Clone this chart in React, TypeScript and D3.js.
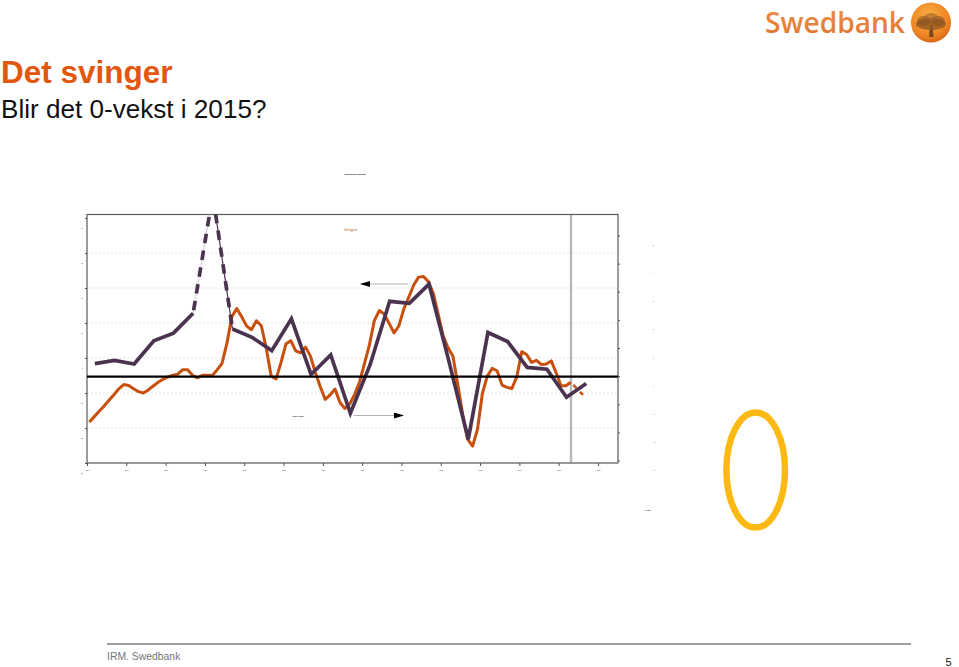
import * as d3 from "d3";
import {useRef, useEffect} from "react";

const width = 959;
const height = 667;

// plot box
const boxLeft = 87;
const boxRight = 618;
const boxTop = 214.5;
const boxBottom = 463;

const yearTicks = [2003, 2004, 2005, 2006, 2007, 2008, 2009, 2010, 2011, 2012, 2013, 2014, 2015, 2016];
const leftTicks = [-30, -20, -10, 0, 10, 20, 30, 40];
const rightTicks = [-3, -2, -1, 0, 1, 2, 3, 4, 5];

// half-yearly series, left axis
const halfYearStart = 2003.2;
const halfYearValues = [
  -1.6, -0.7, -1.7, 4.9, 7.1, 12.8, 46.6, 8.3, 5.9, 2.1, 11.2, -4.7, 0.9, -15.8, -2, 16.2, 15.6, 21.1, -0.6, -23.2,
  7.3, 4.7, -2.7, -3.2, -11.2, -7.3,
];

// orange series, right axis, one value per 1.5 months
const actualStart = 2003.06;
const actualValues = [
  -1.63, -1.44, -1.25, -1.06, -0.86, -0.66, -0.45, -0.3, -0.33, -0.45, -0.55, -0.6, -0.49, -0.35, -0.22, -0.11, -0.03,
  0.03, 0.07, 0.23, 0.23, 0.03, -0.06, 0.03, 0.03, 0.02, 0.22, 0.45, 1.17, 2.11, 2.4, 2.11, 1.78, 1.65, 1.97, 1.79,
  0.99, 0, -0.1, 0.48, 1.14, 1.26, 0.9, 0.83, 1.03, 0.71, 0.12, -0.38, -0.83, -0.67, -0.46, -0.94, -1.15, -0.99, -0.65,
  -0.2, 0.45, 1.11, 1.97, 2.33, 2.21, 1.88, 1.54, 1.79, 2.39, 2.8, 3.23, 3.52, 3.54, 3.36, 2.94, 2.2, 1.43, 1.01, 0.71,
  -0.32, -1.38, -2.25, -2.49, -1.89, -0.61, 0, 0.28, 0.18, -0.32, -0.4, -0.44, -0.02, 0.87, 0.77, 0.49, 0.56, 0.41,
  0.43, 0.54, 0.12, -0.34, -0.34, -0.22,
];
const forecastValues = [-0.22, -0.4, -0.59, -0.75];

const purple = "#4b3350";
const orange = "#c8500f";
const sans = "'Liberation Sans', Arial, sans-serif";

const x = d3.scaleLinear().domain([2003, 2016]).range([boxLeft, 598]);
const yLeft = d3.scaleLinear().domain([-30, 40]).range([boxBottom, 218]);
const yRight = d3.scaleLinear().domain([-3, 5]).range([460.5, 235.5]);

const halfYearPoints = halfYearValues.map((v, i) => [halfYearStart + i * 0.5, v] as [number, number]);
const leftLine = d3
  .line<[number, number]>()
  .x((d) => x(d[0]))
  .y((d) => yLeft(d[1]));
const rightLine = d3
  .line<[number, number]>()
  .x((d) => x(d[0]))
  .y((d) => yRight(d[1]));

const actualPoints = actualValues.map((v, i) => [actualStart + i * 0.125, v] as [number, number]);
const forecastPoints = forecastValues.map(
  (v, i) => [actualStart + (actualValues.length - 1 + i) * 0.125, v] as [number, number],
);

export default function App() {
  const gx = useRef<SVGGElement | null>(null);
  const gl = useRef<SVGGElement | null>(null);
  const gr = useRef<SVGGElement | null>(null);

  useEffect(() => {
    if (gx.current) {
      d3.select(gx.current)
        .call(d3.axisBottom(x).tickValues(yearTicks).tickFormat(d3.format("d")).tickSize(3).tickPadding(4))
        .call((g) => g.select(".domain").remove());
    }
    if (gl.current) {
      d3.select(gl.current)
        .call(d3.axisLeft(yLeft).tickValues(leftTicks).tickSize(2).tickPadding(2))
        .call((g) => g.select(".domain").remove())
        .call((g) => g.selectAll("text").attr("dy", 10));
    }
    if (gr.current) {
      d3.select(gr.current)
        .call(d3.axisRight(yRight).tickValues(rightTicks).tickSize(2).tickPadding(33))
        .call((g) => g.select(".domain").remove())
        .call((g) => g.selectAll("text").attr("dy", 10));
    }
    [gx, gl, gr].forEach((r) => {
      if (r.current) {
        d3.select(r.current).selectAll("text").attr("font-size", 1.6).attr("font-family", sans).attr("fill", "#222");
        d3.select(r.current).selectAll("line").attr("stroke", "#555");
      }
    });
  }, []);

  return (
    <svg width={width} height={height} style={{position: "absolute", left: 0, top: 0, display: "block"}}>
      <defs>
        <clipPath id="plot">
          <rect x={boxLeft} y={boxTop} width={boxRight - boxLeft} height={boxBottom - boxTop} />
        </clipPath>
        <linearGradient id="logoText" x1="0" x2="0" y1="0" y2="1">
          <stop offset="0" stopColor="#eb9350" />
          <stop offset="1" stopColor="#e3702a" />
        </linearGradient>
        <radialGradient id="logoBall" cx="0.45" cy="0.35" r="0.7">
          <stop offset="0" stopColor="#fbb246" />
          <stop offset="0.7" stopColor="#ee8423" />
          <stop offset="1" stopColor="#cf5f18" />
        </radialGradient>
        <marker id="head" viewBox="0 0 10 6" refX="9" refY="3" markerWidth="10" markerHeight="6" orient="auto" markerUnits="userSpaceOnUse">
          <path d="M0,0L10,3L0,6Z" fill="#000" />
        </marker>
      </defs>

      <text x={1} y={82.5} fontFamily={sans} fontSize={31.5} fontWeight="bold" fill="#e2570f">
        Det svinger
      </text>
      <text x={1} y={118} fontFamily={sans} fontSize={26.1} fill="#111">
        Blir det 0-vekst i 2015?
      </text>

      <text x={765} y={33} textLength={140} lengthAdjust="spacingAndGlyphs" fontFamily="'Open Sans', sans-serif" fontSize={29.4} fontWeight="600" fill="url(#logoText)">
        Swedbank
      </text>
      <circle cx={931} cy={22.5} r={20} fill="url(#logoBall)" />
      <path d="M929,37L933.5,37L932.5,25L930,25Z" fill="#7a4a1c" />
      <ellipse cx={931} cy={24} rx={15} ry={6} fill="#94591f" opacity={0.8} />
      <ellipse cx={924} cy={21} rx={7} ry={5} fill="#8a5020" opacity={0.6} />
      <ellipse cx={938} cy={21} rx={7} ry={5} fill="#8a5020" opacity={0.6} />
      <ellipse cx={931} cy={17} rx={7} ry={4} fill="#a0622a" opacity={0.6} />

      <text x={355} y={175} textAnchor="middle" fontFamily={sans} fontSize={2.5} fill="#222" fontWeight="bold">
        Swedbank anslag
      </text>

      {leftTicks.slice(0, -1).map((t) => (
        <line key={t} x1={boxLeft} x2={boxRight} y1={yLeft(t)} y2={yLeft(t)} stroke="#dcdcdc" strokeWidth={0.8} strokeDasharray="2 2" />
      ))}

      <line x1={571} x2={571} y1={boxTop} y2={boxBottom} stroke="#b9b9b9" strokeWidth={2.4} />
      <rect x={boxLeft} y={boxTop} width={boxRight - boxLeft} height={boxBottom - boxTop} fill="none" stroke="#5a5a5a" strokeWidth={1.2} />

      <g ref={gx} transform={`translate(0,${boxBottom})`} />
      <g ref={gl} transform={`translate(${boxLeft},0)`} />
      <g ref={gr} transform={`translate(${boxRight},0)`} />

      <g clipPath="url(#plot)">
        <path d={rightLine(actualPoints) ?? ""} fill="none" stroke={orange} strokeWidth={3} strokeLinejoin="round" />

        <path d={leftLine(halfYearPoints.slice(0, 6)) ?? ""} fill="none" stroke={purple} strokeWidth={3.7} />
        <path d={leftLine(halfYearPoints.slice(5, 7)) ?? ""} fill="none" stroke="#b8aebb" strokeWidth={0.7} />
        <path d={leftLine(halfYearPoints.slice(6, 8)) ?? ""} fill="none" stroke={purple} strokeWidth={1.2} />
        <path d={leftLine(halfYearPoints.slice(5, 8)) ?? ""} fill="none" stroke={purple} strokeWidth={3.7} strokeDasharray="9.5 7.5" strokeDashoffset={-3} />
        <path d={leftLine(halfYearPoints.slice(7)) ?? ""} fill="none" stroke={purple} strokeWidth={3.7} />

        <path d={rightLine(forecastPoints) ?? ""} fill="none" stroke={orange} strokeWidth={2.4} strokeDasharray="4.5 5" strokeDashoffset={-3.5} />
      </g>

      <line x1={boxLeft} x2={boxRight} y1={376.7} y2={376.7} stroke="#000" strokeWidth={2.2} />

      <line x1={408} x2={361} y1={284} y2={284} stroke="#b4b4b4" strokeWidth={1} markerEnd="url(#head)" />
      <line x1={354} x2={403} y1={415.5} y2={415.5} stroke="#b4b4b4" strokeWidth={1} markerEnd="url(#head)" />

      <text x={351} y={230.5} textAnchor="middle" fontFamily={sans} fontSize={3.4} fill="#b8692e">
        Boligpris
      </text>
      <text x={298} y={417} textAnchor="middle" fontFamily={sans} fontSize={2.2} fill="#333" fontWeight="bold">
        Høyre akse
      </text>
      <text x={648} y={511} textAnchor="middle" fontFamily={sans} fontSize={2.2} fill="#333" fontWeight="bold">
        Kilde
      </text>

      <ellipse cx={755.7} cy={470} rx={29.3} ry={57.6} fill="none" stroke="#fdb913" strokeWidth={6.5} />

      <line x1={107} x2={911} y1={644} y2={644} stroke="#808080" strokeWidth={1.5} />
      <text x={107} y={660} fontFamily={sans} fontSize={10.4} fill="#777">
        IRM. Swedbank
      </text>
      <text x={945.5} y={666} fontFamily={sans} fontSize={11} fill="#222">
        5
      </text>
    </svg>
  );
}
